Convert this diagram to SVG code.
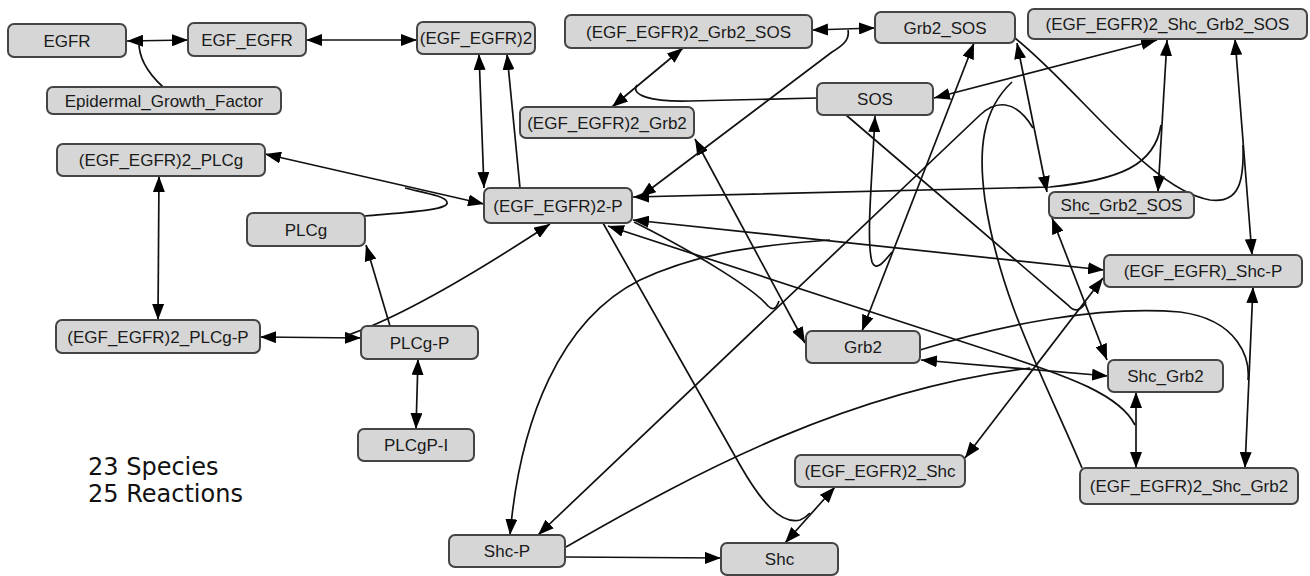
<svg xmlns="http://www.w3.org/2000/svg" width="1310" height="576" viewBox="0 0 1310 576">
<style>
.n rect{fill:#d6d6d6;stroke:#444;stroke-width:2}
.n text{font-family:"Liberation Sans",Arial,sans-serif;font-size:17px;fill:#1a1a1a;text-anchor:middle}
#edges path{fill:none;stroke:#111;stroke-width:1.7}
.lg{font-family:"DejaVu Sans",Verdana,sans-serif;font-size:24px;fill:#111}
</style>
<defs>
<marker id="a" viewBox="0 0 16 12" refX="16" refY="6" markerWidth="16" markerHeight="12" markerUnits="userSpaceOnUse" orient="auto-start-reverse">
<path d="M0,0 L16,6 L0,12 z" fill="#000"/>
</marker>
</defs>
<rect width="1310" height="576" fill="#fff"/>
<g id="edges">
<path d="M127,41 L188,40" marker-start="url(#a)" marker-end="url(#a)"/>
<path d="M163,87 Q138,64 139,41"/>
<path d="M306,40 L417,40" marker-start="url(#a)" marker-end="url(#a)"/>
<path d="M479,54 L484,188" marker-start="url(#a)" marker-end="url(#a)"/>
<path d="M520,188 L507,54" marker-end="url(#a)"/>
<path d="M265,154 L484,204" marker-start="url(#a)" marker-end="url(#a)"/>
<path d="M365,216 C410,212 450,210 447,202 C445,196 425,193 405,188"/>
<path d="M159,176 L158,320" marker-start="url(#a)" marker-end="url(#a)"/>
<path d="M260,337 L361,338" marker-start="url(#a)" marker-end="url(#a)"/>
<path d="M345,336 C400,318 480,270 550,224" marker-end="url(#a)"/>
<path d="M390,326 L366,245" marker-end="url(#a)"/>
<path d="M418,359 L416,429" marker-start="url(#a)" marker-end="url(#a)"/>
<path d="M695,139 L805,343" marker-start="url(#a)" marker-end="url(#a)"/>
<path d="M634,222 C700,255 755,290 768,306 Q775,313 779,301"/>
<path d="M683,48 L612,107" marker-start="url(#a)" marker-end="url(#a)"/>
<path d="M817,98 L690,101 C650,102 630,95 637,85"/>
<path d="M812,30 L875,28" marker-start="url(#a)" marker-end="url(#a)"/>
<path d="M848,30 C850,40 842,46 832,52 L640,197" marker-end="url(#a)"/>
<path d="M974,43 L862,331" marker-start="url(#a)" marker-end="url(#a)"/>
<path d="M875,116 C872,180 866,240 872,262 C876,272 884,262 892,252" marker-start="url(#a)"/>
<path d="M785,543 L835,487" marker-start="url(#a)" marker-end="url(#a)"/>
<path d="M603,223 L740,465 C760,500 780,525 800,520 C805,518 808,515 810,513"/>
<path d="M965,458 L1103,278" marker-start="url(#a)" marker-end="url(#a)"/>
<path d="M633,220 L1104,270" marker-start="url(#a)" marker-end="url(#a)"/>
<path d="M510,535 C520,420 560,320 640,280 C700,252 760,245 830,240" marker-start="url(#a)"/>
<path d="M566,557 L721,558" marker-end="url(#a)"/>
<path d="M1253,287 L1245,468" marker-start="url(#a)" marker-end="url(#a)"/>
<path d="M920,350 C1000,325 1100,305 1180,312 C1240,320 1250,360 1248,380"/>
<path d="M1136,392 L1136,468" marker-start="url(#a)" marker-end="url(#a)"/>
<path d="M608,226 L1000,354 C1070,377 1120,395 1135,425" marker-start="url(#a)"/>
<path d="M934,98 L1157,40" marker-start="url(#a)" marker-end="url(#a)"/>
<path d="M1082,468 C1045,380 1000,300 985,200 C978,150 982,110 1012,82"/>
<path d="M1167,40 L1158,192" marker-start="url(#a)" marker-end="url(#a)"/>
<path d="M1161,125 C1155,165 1120,180 1050,187 L633,197" marker-end="url(#a)"/>
<path d="M921,360 L1108,376" marker-start="url(#a)" marker-end="url(#a)"/>
<path d="M566,547 C700,470 850,390 1030,368"/>
<path d="M1052,218 L1107,360" marker-start="url(#a)" marker-end="url(#a)"/>
<path d="M846,115 L1068,305 C1074,312 1080,312 1086,302"/>
<path d="M1017,43 L1047,192" marker-start="url(#a)" marker-end="url(#a)"/>
<path d="M538,535 L980,115 C995,101 1015,98 1033,128" marker-start="url(#a)"/>
<path d="M1235,39 L1252,255" marker-start="url(#a)" marker-end="url(#a)"/>
<path d="M1015,38 C1080,90 1150,190 1210,200 C1240,204 1244,180 1243,145"/>
</g>
<g id="n1" class="n"><rect x="8" y="24" width="118" height="33" rx="6"/><text x="67" y="46.5">EGFR</text></g>
<g id="n2" class="n"><rect x="188" y="23" width="118" height="33" rx="6"/><text x="247" y="45.5">EGF_EGFR</text></g>
<g id="n3" class="n"><rect x="417" y="22" width="118" height="32" rx="6"/><text x="476" y="44">(EGF_EGFR)2</text></g>
<g id="n4" class="n"><rect x="47" y="87" width="234" height="27" rx="6"/><text x="164" y="106.5">Epidermal_Growth_Factor</text></g>
<g id="n5" class="n"><rect x="57" y="144" width="208" height="32" rx="6"/><text x="161" y="166">(EGF_EGFR)2_PLCg</text></g>
<g id="n6" class="n"><rect x="247" y="213" width="118" height="33" rx="6"/><text x="306" y="235.5">PLCg</text></g>
<g id="n7" class="n"><rect x="484" y="188" width="148" height="35" rx="6"/><text x="558" y="211.5">(EGF_EGFR)2-P</text></g>
<g id="n8" class="n"><rect x="56" y="320" width="204" height="33" rx="6"/><text x="158" y="342.5">(EGF_EGFR)2_PLCg-P</text></g>
<g id="n9" class="n"><rect x="361" y="326" width="117" height="33" rx="6"/><text x="419.5" y="348.5">PLCg-P</text></g>
<g id="n10" class="n"><rect x="358" y="429" width="116" height="32" rx="6"/><text x="416" y="451">PLCgP-I</text></g>
<g id="n11" class="n"><rect x="565" y="15" width="247" height="33" rx="6"/><text x="688.5" y="37.5">(EGF_EGFR)2_Grb2_SOS</text></g>
<g id="n12" class="n"><rect x="875" y="12" width="140" height="31" rx="6"/><text x="945" y="33.5">Grb2_SOS</text></g>
<g id="n13" class="n"><rect x="1028" y="9" width="279" height="30" rx="6"/><text x="1167.5" y="30">(EGF_EGFR)2_Shc_Grb2_SOS</text></g>
<g id="n14" class="n"><rect x="817" y="83" width="116" height="32" rx="6"/><text x="875" y="105">SOS</text></g>
<g id="n15" class="n"><rect x="520" y="107" width="174" height="31" rx="6"/><text x="607" y="128.5">(EGF_EGFR)2_Grb2</text></g>
<g id="n16" class="n"><rect x="1049" y="192" width="145" height="26" rx="6"/><text x="1121.5" y="211">Shc_Grb2_SOS</text></g>
<g id="n17" class="n"><rect x="1104" y="255" width="198" height="32" rx="6"/><text x="1203" y="277">(EGF_EGFR)_Shc-P</text></g>
<g id="n18" class="n"><rect x="806" y="331" width="114" height="32" rx="6"/><text x="863" y="353">Grb2</text></g>
<g id="n19" class="n"><rect x="1108" y="360" width="115" height="32" rx="6"/><text x="1165.5" y="382">Shc_Grb2</text></g>
<g id="n20" class="n"><rect x="1080" y="468" width="218" height="36" rx="6"/><text x="1189" y="492">(EGF_EGFR)2_Shc_Grb2</text></g>
<g id="n21" class="n"><rect x="795" y="455" width="170" height="32" rx="6"/><text x="880" y="477">(EGF_EGFR)2_Shc</text></g>
<g id="n22" class="n"><rect x="449" y="535" width="116" height="32" rx="6"/><text x="507" y="557">Shc-P</text></g>
<g id="n23" class="n"><rect x="721" y="543" width="117" height="32" rx="6"/><text x="779.5" y="565">Shc</text></g>
<text class="lg" x="88" y="475">23 Species</text>
<text class="lg" x="88" y="502">25 Reactions</text>
</svg>
